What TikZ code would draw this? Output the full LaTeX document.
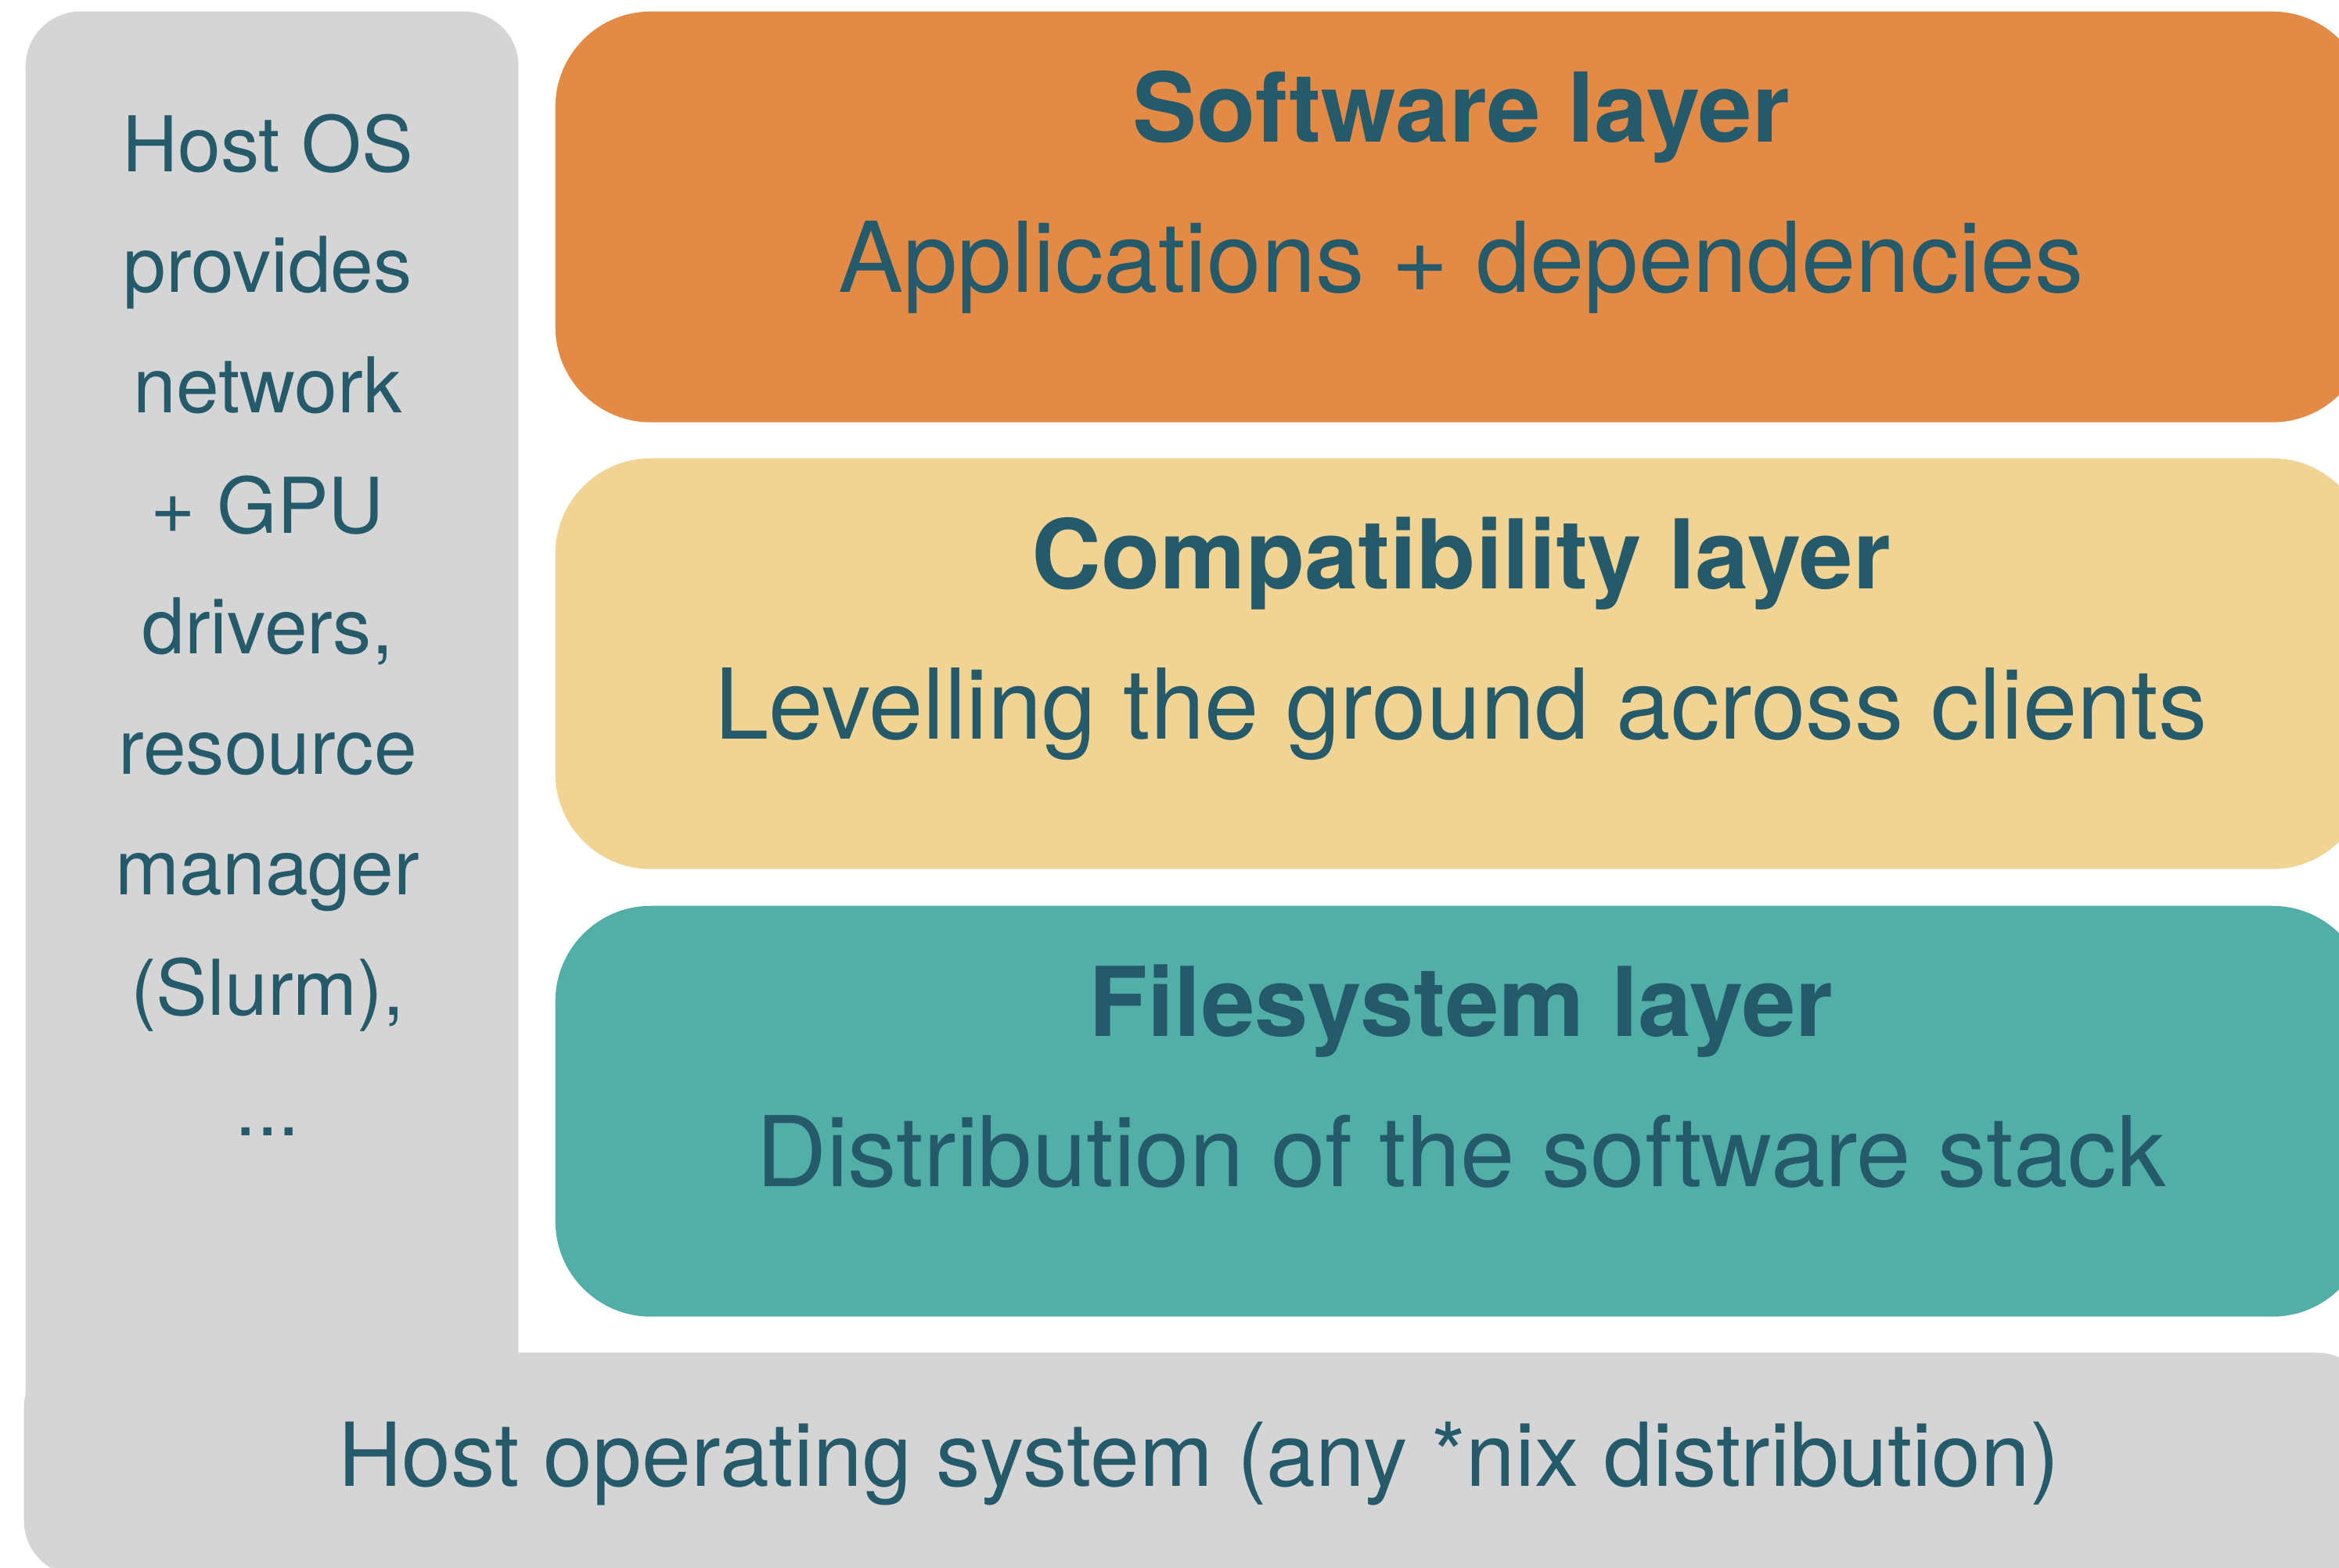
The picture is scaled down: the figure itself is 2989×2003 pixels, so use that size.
\documentclass[tikz,border=0pt]{standalone}
\usepackage{fontspec}
\setmainfont{TeX Gyre Heros}
\definecolor{ink}{HTML}{255A6B}
\definecolor{hostgray}{HTML}{D5D5D5}
\definecolor{swfill}{HTML}{E28A46}
\definecolor{compatfill}{HTML}{F1D493}
\definecolor{fsfill}{HTML}{51AFA7}
\begin{document}
\begin{tikzpicture}[x=0.1mm,y=-0.1mm,
  layerbox/.style={rectangle, draw=none, inner sep=0pt, anchor=north west,
    rounded corners=12.2mm, minimum width=231.6mm, minimum height=52.5mm},
  hostbox/.style={rectangle, draw=none, fill=hostgray, inner sep=0pt,
    anchor=north west, rounded corners=7mm},
  title/.style={anchor=base, inner sep=0pt, text=ink,
    font=\fontsize{35}{42}\selectfont\bfseries},
  subtitle/.style={anchor=base, inner sep=0pt, text=ink,
    font=\fontsize{35.5}{42}\selectfont},
  coltext/.style={anchor=base, inner sep=0pt, text=ink,
    font=\fontsize{28}{34}\selectfont},
  basetext/.style={anchor=base, inner sep=0pt, text=ink,
    font=\fontsize{32.1}{38}\selectfont}]
\useasboundingbox (0,0) rectangle (2989,2003);
\clip (0,0) rectangle (2989,2003);

% host OS: side column and base bar
\node[hostbox, minimum width=63mm, minimum height=183.6mm] (hostcol) at (32,14) {};
\node[hostbox, minimum width=300mm, minimum height=28.5mm] (hostbase) at (30,1728) {};

% stacked layers
\node[layerbox, fill=swfill] (swlayer) at (709,14) {};
\node[layerbox, fill=compatfill] (compatlayer) at (709,585) {};
\node[layerbox, fill=fsfill] (fslayer) at (709,1157) {};

% layer labels
\node[title] (swtitle) at (1867,181) {Software layer};
\node[subtitle] (swsub) at (1867,373) {Applications + dependencies};
\node[title] (compattitle) at (1867,752) {Compatibility layer};
\node[subtitle] (compatsub) at (1867,944) {Levelling the ground across clients};
\node[title] (fstitle) at (1867,1324) {Filesystem layer};
\node[subtitle] (fssub) at (1867,1516) {Distribution of the software stack};

% side column text, one line per node
\node[coltext] (col0) at (342,219) {Host OS};
\node[coltext] (col1) at (342,373) {provides};
\node[coltext] (col2) at (342,527) {network};
\node[coltext] (col3) at (342,681) {+ GPU};
\node[coltext] (col4) at (342,835) {drivers,};
\node[coltext] (col5) at (342,989) {resource};
\node[coltext] (col6) at (342,1143) {manager};
\node[coltext] (col7) at (342,1297) {(Slurm),};
\node[coltext] (col8) at (342,1451) {...};

% base bar text
\node[basetext] (basetxt) at (1532,1899) {Host operating system (any *nix distribution)};
\end{tikzpicture}
\end{document}
